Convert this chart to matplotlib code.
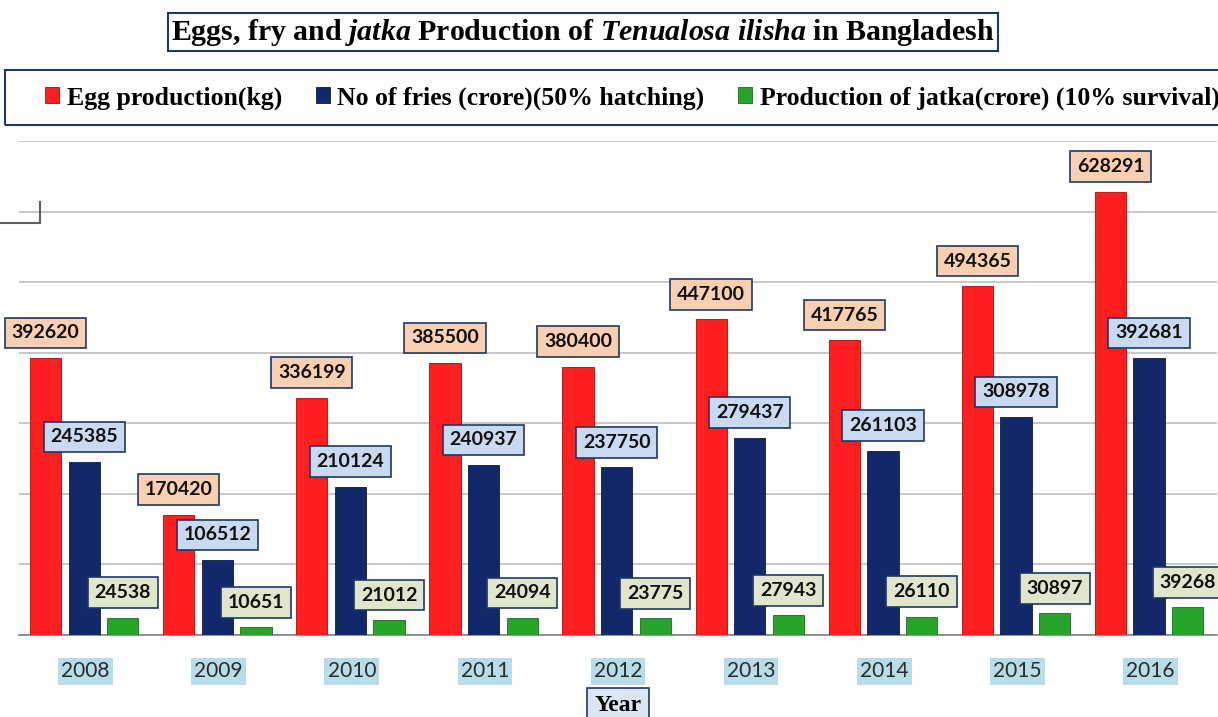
import matplotlib.pyplot as plt
import numpy as np
from matplotlib.lines import Line2D
from matplotlib.patches import Rectangle

years = ['2008', '2009', '2010', '2011', '2012', '2013', '2014', '2015', '2016']
eggs = [392620, 170420, 336199, 385500, 380400, 447100, 417765, 494365, 628291]
fries = [245385, 106512, 210124, 240937, 237750, 279437, 261103, 308978, 392681]
jatka = [24538, 10651, 21012, 24094, 23775, 27943, 26110, 30897, 39268]

series_names = ['Egg production(kg)', 'No of fries (crore)(50% hatching)',
                'Production of jatka(crore) (10% survival)']

plt.rcParams['mathtext.fontset'] = 'custom'
plt.rcParams['mathtext.rm'] = 'Liberation Serif:bold'
plt.rcParams['mathtext.it'] = 'Liberation Serif:bold:italic'

fig = plt.figure(figsize=(12.18, 7.17), dpi=100)
ax = fig.add_axes([19 / 1218, 82 / 717, 1198 / 1218, 494 / 717])

x = np.arange(len(years))
w = 0.235
bars_egg = ax.bar(x - 0.30, eggs, w, color='#ff1f1f', edgecolor='#c00000', linewidth=0.6, zorder=3)
bars_fry = ax.bar(x - 0.01, fries, w, color='#13286b', edgecolor='#0a1a4a', linewidth=0.6, zorder=3)
bars_jat = ax.bar(x + 0.28, jatka, w, color='#25a52a', edgecolor='#157015', linewidth=0.6, zorder=3)

# data labels in boxes
label_style = [(bars_egg, eggs, '#f8cfb0'), (bars_fry, fries, '#c9daf0'), (bars_jat, jatka, '#dfe6cc')]
for bars, vals, fc in label_style:
    for b, v in zip(bars, vals):
        ax.annotate(str(v), (b.get_x() + b.get_width() / 2, v), xytext=(0, 18),
                    textcoords='offset points', ha='center', va='center',
                    fontsize=14, fontweight='bold', family='Lato', color='#111111',
                    bbox=dict(boxstyle='square,pad=0.35', fc=fc, ec='#1f3864', lw=1.2),
                    zorder=5)

ax.set_xlim(-0.5, len(years) - 0.5)
ax.set_ylim(0, 700000)
ax.set_yticks(np.arange(0, 700001, 100000))
ax.yaxis.grid(True, color='#bfbfbf', linewidth=1.2, zorder=0)
ax.tick_params(axis='y', left=False, labelleft=False)
ax.tick_params(axis='x', length=0, pad=19)
for s in ['top', 'right', 'left']:
    ax.spines[s].set_visible(False)
ax.spines['bottom'].set_color('#808080')
ax.spines['bottom'].set_linewidth(1.2)

ax.set_xticks(x)
ax.set_xticklabels(years, family='Lato', fontsize=15, color='#2a2a2a')
for t in ax.get_xticklabels():
    t.set_bbox(dict(boxstyle='square,pad=0.15', fc='#b9dde8', ec='none'))

ax.set_xlabel('Year', family='Liberation Serif', fontweight='bold', fontsize=17, labelpad=10,
              bbox=dict(boxstyle='square,pad=0.3', fc='#dce6f2', ec='#1f3864', lw=1.2))

# title
fig.text(583 / 1218, 1 - 32 / 717,
         r'Eggs, fry and $\mathit{jatka}$ Production of $\mathit{Tenualosa\ ilisha}$ in Bangladesh',
         ha='center', va='center', family='Liberation Serif', fontweight='bold', fontsize=21.5,
         bbox=dict(boxstyle='square,pad=0.12', fc='white', ec='#1f3864', lw=1.5))

# legend with its own frame running off the right edge
fig.patches.append(Rectangle((5 / 1218, 1 - 125 / 717), 1.2, 55 / 717, transform=fig.transFigure,
                             fill=False, ec='#1f3864', lw=1.5))
fig.legend([bars_egg, bars_fry, bars_jat], series_names, loc='center left',
           bbox_to_anchor=(22 / 1218, 1 - 98 / 717), ncol=3, frameon=False,
           handlelength=0.55, handleheight=0.55, handletextpad=0.3, columnspacing=1.3,
           prop={'family': 'Liberation Serif', 'weight': 'bold', 'size': 18.5})

# leftover corner of an underlying chart frame
fig.add_artist(Line2D([0, 40 / 1218], [1 - 223 / 717, 1 - 223 / 717], color='#606060', lw=1.5))
fig.add_artist(Line2D([40 / 1218, 40 / 1218], [1 - 223 / 717, 1 - 202 / 717], color='#606060', lw=1.5))

fig.savefig('out.png', dpi=100)
